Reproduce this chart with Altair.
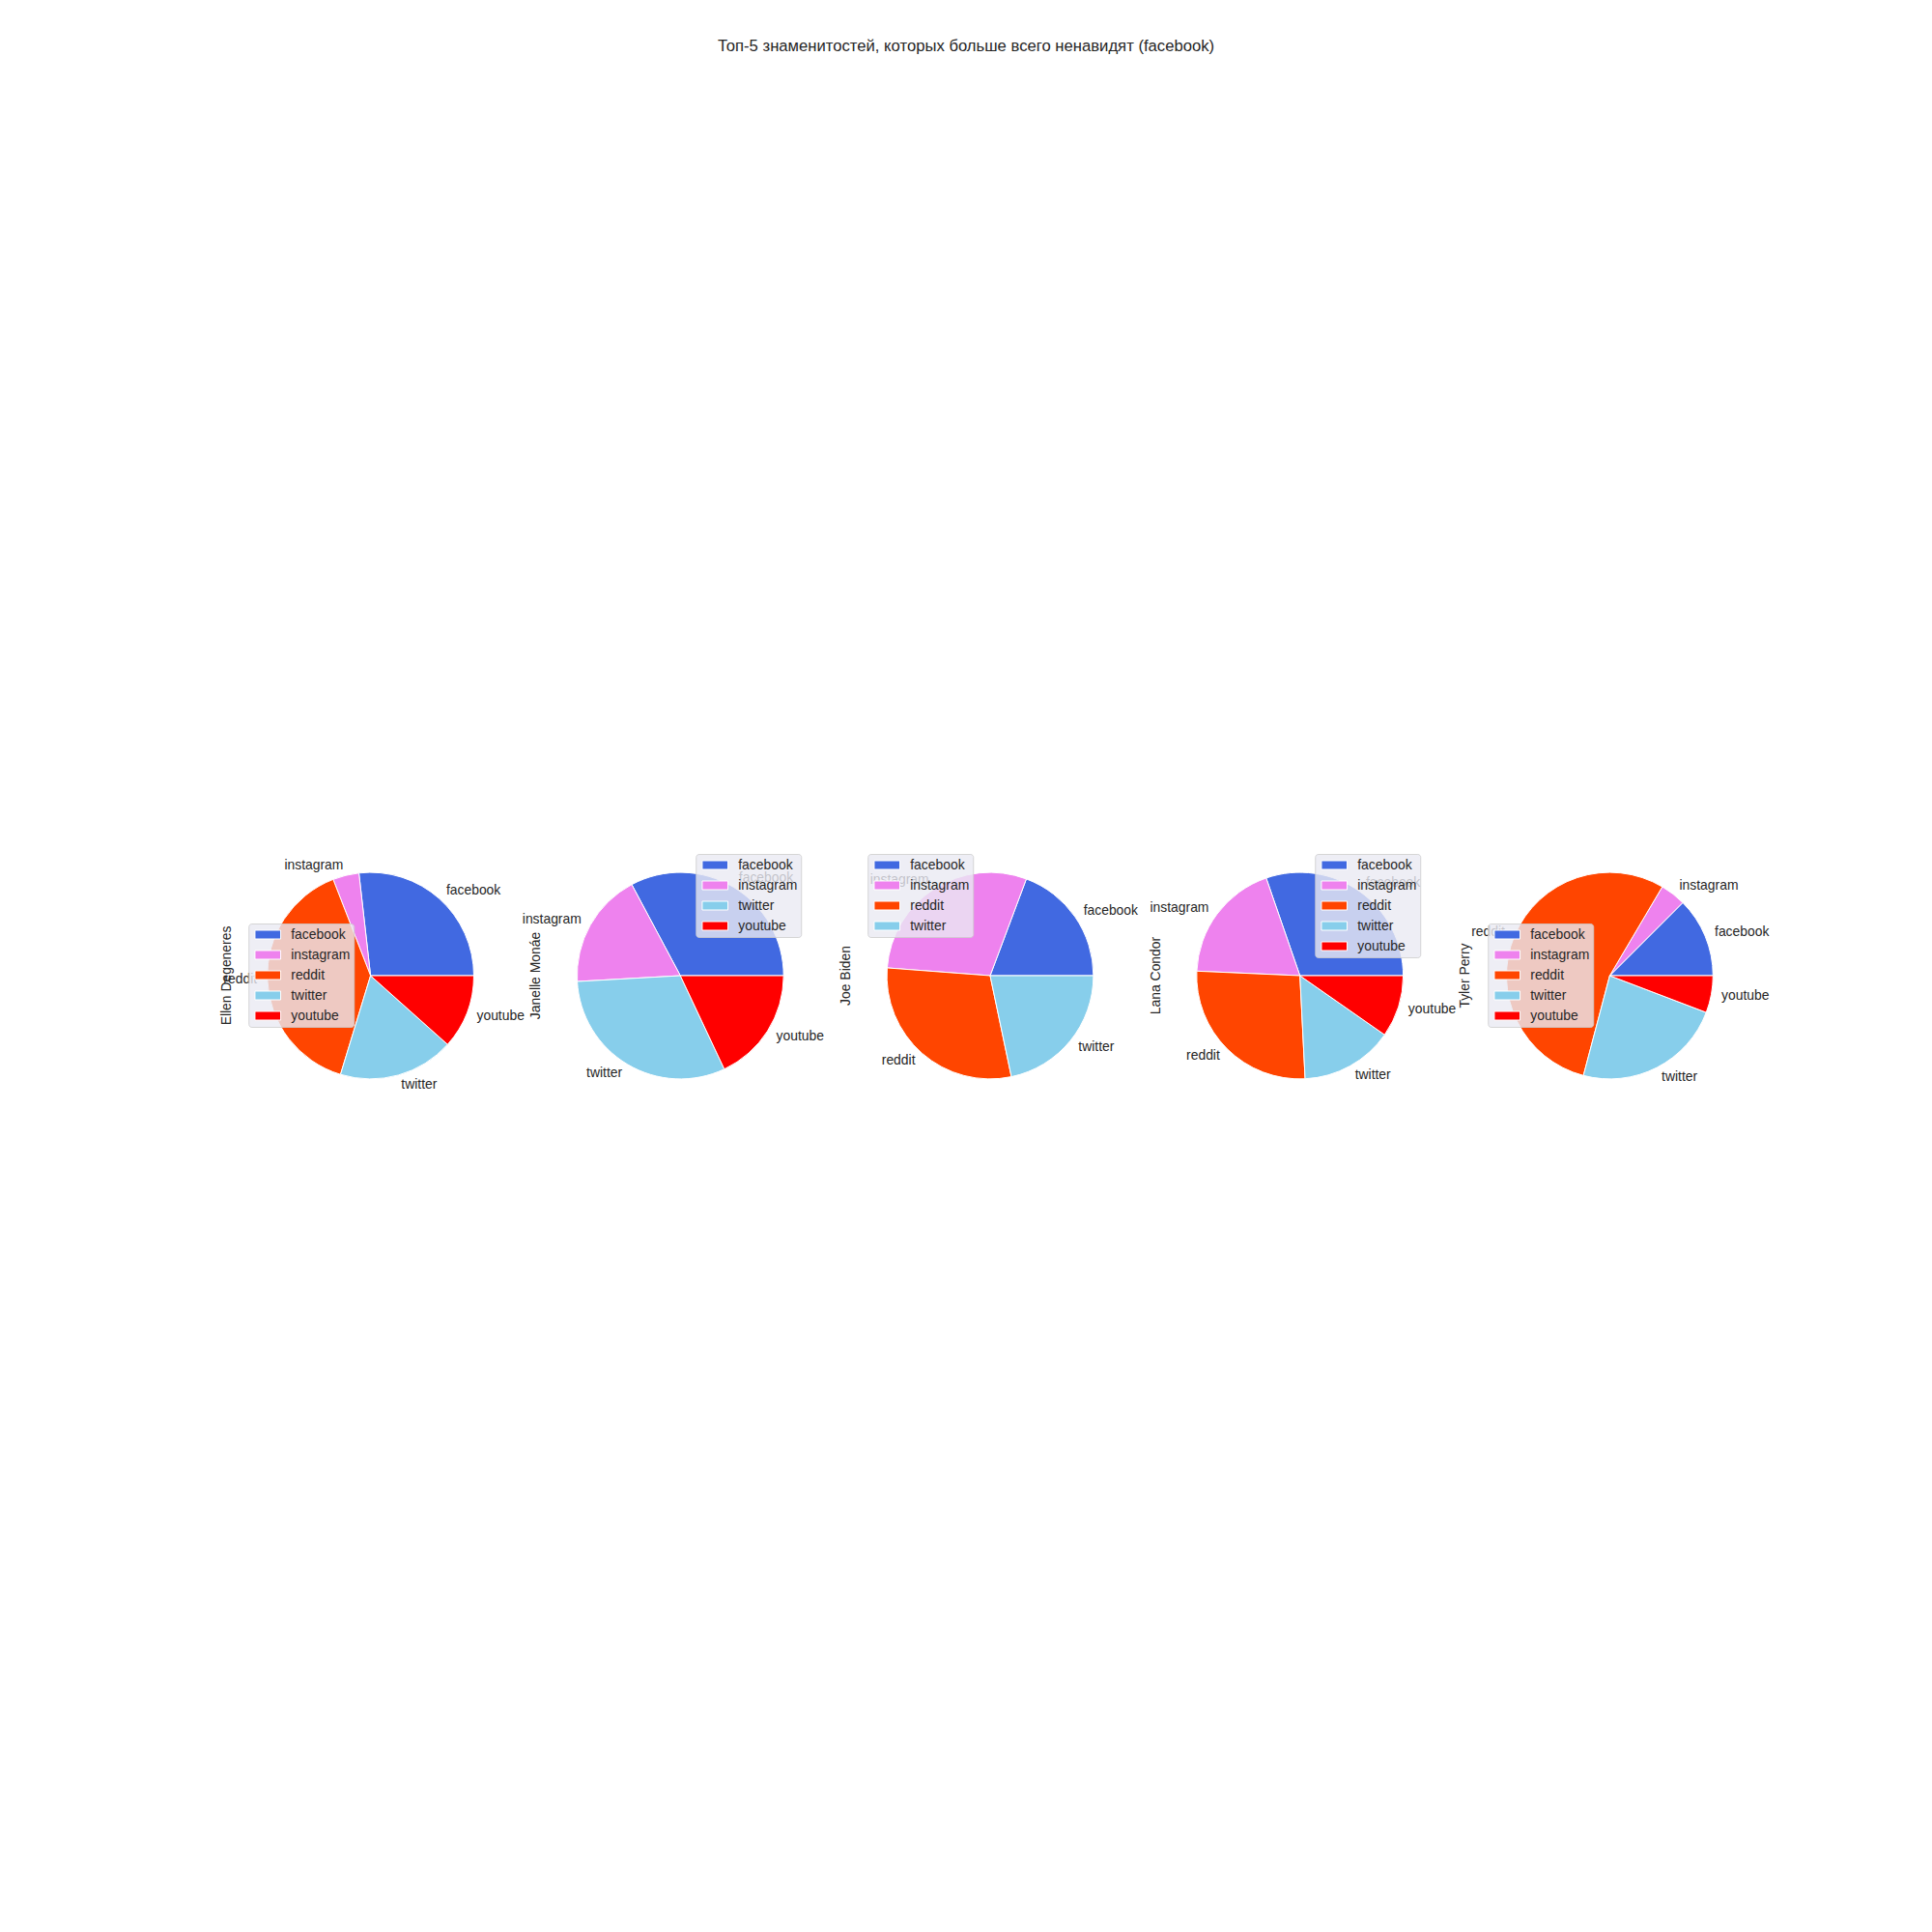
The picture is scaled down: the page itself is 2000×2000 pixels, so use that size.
import math
import altair as alt
import pandas as pd

# ---- data ----
celebrities = ["Ellen Degeneres", "Janelle Monáe", "Joe Biden", "Lana Condor", "Tyler Perry"]
platforms = ["facebook", "instagram", "reddit", "twitter", "youtube"]
facebook = [26.8, 32.8, 19.3, 30.3, 12.5]
instagram = [4.1, 18.1, 29.5, 19.0, 4.0]
reddit = [39.4, None, 29.5, 26.5, 54.4]
twitter = [18.1, 31.1, 21.7, 14.5, 23.3]
youtube = [11.6, 18.0, None, 9.7, 5.8]
platform_colors = ["#4169E1", "#EE82EE", "#FF4500", "#87CEEB", "#FF0000"]
title_text = "Топ-5 знаменитостей, которых больше всего ненавидят (facebook)"

# legend positions (relative to the plot area) for each pie
legend_x = [34, 497, 675, 1138, 1317]
legend_y = [876, 804, 804, 804, 876]

series = [facebook, instagram, reddit, twitter, youtube]
rows = []
for i, c in enumerate(celebrities):
    for j, p in enumerate(platforms):
        v = series[j][i]
        if v is not None:
            rows.append({"celebrity": c, "platform": p, "order": j, "value": v})
df = pd.DataFrame(rows)
names_df = pd.DataFrame({"celebrity": celebrities})

FONT = "Liberation Sans"
TXT = "#262626"
R = 106.9

xenc = alt.X("celebrity:N", scale=alt.Scale(type="point", domain=celebrities, padding=0.5), axis=None)
theta_scale = alt.Scale(domain=[0, 1], range=[math.pi / 2, math.pi / 2 - 2 * math.pi])

base = alt.Chart(df).transform_window(
    cum="sum(value)", groupby=["celebrity"], sort=[alt.SortField("order")]
).transform_joinaggregate(
    total="sum(value)", groupby=["celebrity"]
).transform_calculate(
    start="(datum.cum - datum.value) / datum.total",
    end="datum.cum / datum.total",
    mid="(datum.cum - datum.value / 2) / datum.total",
).transform_calculate(
    side="cos(2 * PI * datum.mid)"
)

sym_path = "M-0.686,-0.643H3.114V0.643H-0.686Z"

layers = []
for i, c in enumerate(celebrities):
    present = [p for j, p in enumerate(platforms) if series[j][i] is not None]
    cols = [platform_colors[j] for j, p in enumerate(platforms) if series[j][i] is not None]
    arc = base.transform_filter(alt.datum.celebrity == c).mark_arc(
        radius=R, stroke="white", strokeWidth=1
    ).encode(
        x=xenc,
        theta=alt.Theta("start:Q", scale=theta_scale, stack=False),
        theta2="end:Q",
        color=alt.Color(
            "platform:N",
            title=None,
            scale=alt.Scale(domain=present, range=cols),
            legend=alt.Legend(
                orient="none",
                legendX=legend_x[i],
                legendY=legend_y[i],
                symbolType=sym_path,
                symbolSize=196,
                symbolStrokeColor="white",
                symbolStrokeWidth=1,
                symbolOpacity=1,
                labelFont=FONT,
                labelFontSize=13.9,
                labelColor=TXT,
                labelOffset=25,
                rowPadding=6,
                padding=4,
                fillColor="rgba(234,234,242,0.8)",
                strokeColor="rgba(204,204,204,0.8)",
                cornerRadius=3,
            ),
        ),
    )
    layers.append(arc)

lab_right = base.transform_filter("datum.side > 0").mark_text(
    align="left", baseline="middle", radius=R * 1.1, font=FONT, fontSize=13.9, color=TXT
).encode(
    x=xenc,
    theta=alt.Theta("mid:Q", scale=theta_scale, stack=False),
    text="platform:N",
)
lab_left = base.transform_filter("datum.side <= 0").mark_text(
    align="right", baseline="middle", radius=R * 1.1, font=FONT, fontSize=13.9, color=TXT
).encode(
    x=xenc,
    theta=alt.Theta("mid:Q", scale=theta_scale, stack=False),
    text="platform:N",
)
ylabels = alt.Chart(names_df).mark_text(
    angle=270, align="center", baseline="middle", dy=-149, font=FONT, fontSize=13.9, color=TXT
).encode(x=xenc, text="celebrity:N")

chart = alt.layer(*layers, lab_right, lab_left, ylabels).resolve_scale(
    color="independent"
).properties(
    width=1603.5,
    height=1860,
    background="white",
    title=alt.TitleParams(
        text=title_text, anchor="middle", frame="group", dx=-25, offset=23,
        font=FONT, fontSize=16.67, fontWeight="normal", color=TXT,
    ),
    autosize=alt.AutoSizeParams(type="none"),
    padding={"left": 223.25, "top": 80, "right": 173.25, "bottom": 60},
).configure_view(strokeWidth=0, stroke="transparent")

chart.save("out.html", embed_options={"renderer": "svg", "actions": False})
